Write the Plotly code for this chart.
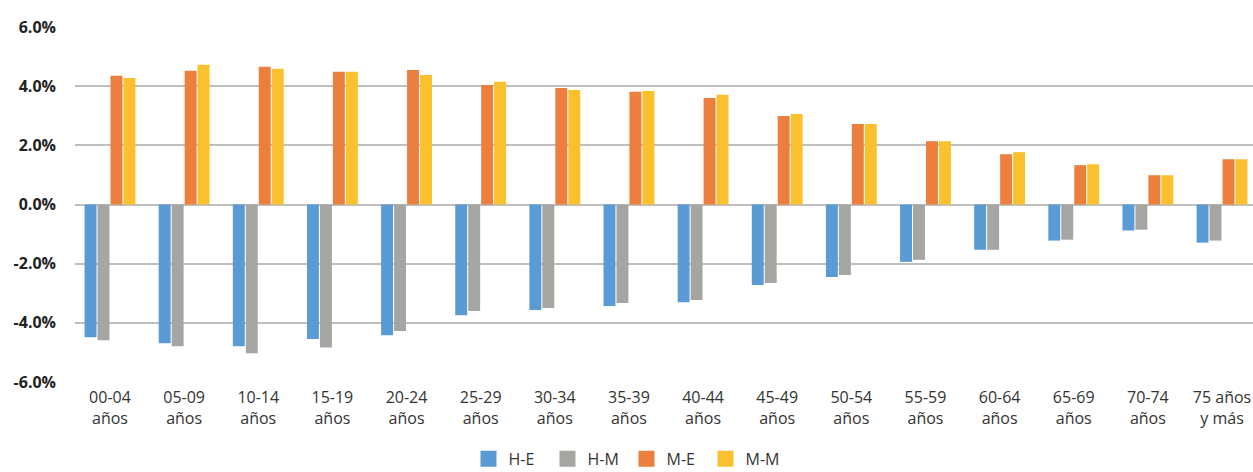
import plotly.graph_objects as go

# Age groups (two-line tick labels)
categories = [
    "00-04<br>años", "05-09<br>años", "10-14<br>años", "15-19<br>años",
    "20-24<br>años", "25-29<br>años", "30-34<br>años", "35-39<br>años",
    "40-44<br>años", "45-49<br>años", "50-54<br>años", "55-59<br>años",
    "60-64<br>años", "65-69<br>años", "70-74<br>años", "75 años<br>y más",
]

# Shares by group (%)
h_e = [-4.49, -4.69, -4.79, -4.55, -4.42, -3.74, -3.57, -3.43,
       -3.30, -2.72, -2.45, -1.94, -1.53, -1.22, -0.88, -1.29]
h_m = [-4.59, -4.79, -5.03, -4.83, -4.28, -3.60, -3.50, -3.33,
       -3.23, -2.65, -2.38, -1.87, -1.53, -1.19, -0.85, -1.22]
m_e = [4.35, 4.52, 4.66, 4.49, 4.55, 4.04, 3.94, 3.81,
       3.60, 2.99, 2.72, 2.14, 1.70, 1.33, 0.99, 1.53]
m_m = [4.28, 4.72, 4.59, 4.49, 4.38, 4.15, 3.87, 3.84,
       3.71, 3.06, 2.72, 2.14, 1.77, 1.36, 0.99, 1.53]

y_ticks = [-6, -4, -2, 0, 2, 4, 6]
y_tick_labels = ["-6.0%", "-4.0%", "-2.0%", "0.0%", "2.0%", "4.0%", "6.0%"]

series = [
    ("H-E", h_e, "#5B9BD5"),
    ("H-M", h_m, "#A5A5A2"),
    ("M-E", m_e, "#EC7F3E"),
    ("M-M", m_m, "#FAC02E"),
]

x_idx = list(range(len(categories)))

fig = go.Figure()
for name, vals, color in series:
    fig.add_trace(go.Bar(
        x=x_idx, y=vals, name=name, showlegend=False,
        marker=dict(color=color, line=dict(width=0)),
    ))

# Legend entries with larger square swatches
for name, _, color in series:
    fig.add_trace(go.Scatter(
        x=[None], y=[None], mode="markers", name=name,
        marker=dict(symbol="square", size=16, color=color, line=dict(width=0)),
    ))

fig.update_layout(
    width=1253, height=472,
    margin=dict(l=75, r=0, t=27, b=90),
    paper_bgcolor="white", plot_bgcolor="white",
    barmode="group", bargap=0.3, bargroupgap=0.08,
    font=dict(family="Open Sans, Noto Sans, sans-serif", color="#333333"),
    showlegend=True,
    legend=dict(
        orientation="h", xref="container", yref="container",
        x=0.5, xanchor="center", y=0.028, yanchor="middle",
        font=dict(size=16, color="#333333"),
        entrywidth=34, itemwidth=30,
    ),
    xaxis=dict(
        range=[-0.472, 15.418],
        tickmode="array", tickvals=x_idx, ticktext=categories,
        showgrid=False, zeroline=False, showline=False, ticks="",
        ticklabelstandoff=4,
        tickfont=dict(size=16, color="#333333"),
    ),
    yaxis=dict(
        range=[-6, 6],
        tickmode="array", tickvals=y_ticks, ticktext=y_tick_labels,
        showgrid=True, gridcolor="#BFBFBF", gridwidth=1.6,
        zeroline=True, zerolinecolor="#BFBFBF", zerolinewidth=1.6,
        showline=False, ticks="", ticklabelstandoff=18,
        tickfont=dict(size=16, color="#222222", weight="bold"),
    ),
)

fig.write_html("out.html")
